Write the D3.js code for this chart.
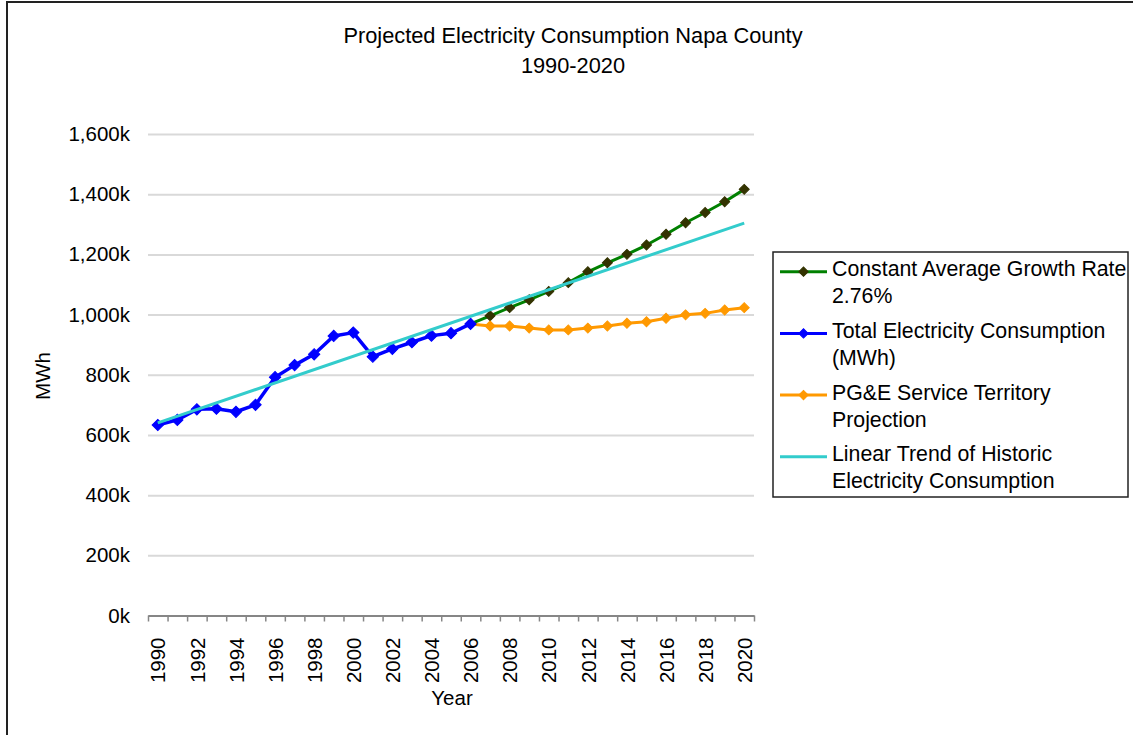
<!DOCTYPE html>
<html>
<head>
<meta charset="utf-8">
<script src="https://cdn.jsdelivr.net/npm/d3@7"></script>
<style>
  html, body { margin: 0; padding: 0; background: #fff; }
  svg { display: block; font-family: "Liberation Sans", Arial, sans-serif; }
</style>
</head>
<body>
<svg id="chart" width="1133" height="735"></svg>
<script>
// ---- data (values in thousands of MWh) ----
const historicYears = [1990,1991,1992,1993,1994,1995,1996,1997,1998,1999,2000,2001,2002,2003,2004,2005,2006];
const historicValues = [633,650,685,687,677,700,792,832,868,929,940,860,886,908,930,938,969];

const projectionYears = [2006,2007,2008,2009,2010,2011,2012,2013,2014,2015,2016,2017,2018,2019,2020];
const growthValues = [969,996,1023,1049,1077,1106,1142,1172,1200,1231,1267,1305,1339,1375,1416];
const pgeValues = [969,962,962,955,949,949,955,962,971,976,988,999,1004,1015,1023];

const trendYears = [1990, 2020];
const trendValues = [640, 1304];

const yTicks = [0,200,400,600,800,1000,1200,1400,1600];
const xLabelYears = [1990,1992,1994,1996,1998,2000,2002,2004,2006,2008,2010,2012,2014,2016,2018,2020];

const titleLines = ["Projected Electricity Consumption Napa County", "1990-2020"];
const legendItems = [
  {lines: ["Constant Average Growth Rate", "2.76%"], color: "#008000", marker: "#333300"},
  {lines: ["Total Electricity Consumption", "(MWh)"], color: "#0000FF", marker: "#0000FF"},
  {lines: ["PG&E Service Territory", "Projection"], color: "#FF9900", marker: "#FF9900"},
  {lines: ["Linear Trend of Historic", "Electricity Consumption"], color: "#33CCCC", marker: null}
];

// ---- layout ----
const svg = d3.select("#chart");
const plot = {left: 148, right: 754, top: 134, bottom: 615.5};

const x = d3.scaleLinear().domain([1989.5, 2020.5]).range([plot.left, plot.right]);
const y = d3.scaleLinear().domain([0, 1600]).range([plot.bottom, plot.top]);

// outer frame
svg.append("rect").attr("x", 7).attr("y", 2).attr("width", 1150).attr("height", 800)
  .attr("fill", "none").attr("stroke", "#222").attr("stroke-width", 2);

// title
svg.append("g").selectAll("text").data(titleLines).join("text")
  .attr("x", 573).attr("y", (d, i) => 43 + i * 30)
  .attr("text-anchor", "middle").attr("font-size", 21.8).attr("fill", "#000")
  .text(d => d);

// y gridlines + labels
const yAxis = d3.axisLeft(y).tickValues(yTicks)
  .tickSize(-(plot.right - plot.left)).tickPadding(18)
  .tickFormat(d => d3.format(",")(d) + "k");
const gy = svg.append("g").attr("transform", `translate(${plot.left},0)`).call(yAxis);
gy.select(".domain").remove();
gy.selectAll(".tick line").attr("stroke", "#d9d9d9").attr("stroke-width", 2);
gy.selectAll(".tick text").attr("font-size", 20.5).attr("fill", "#000")
  .attr("font-family", "Liberation Sans, Arial, sans-serif");

// x axis: ticks at category boundaries
const boundaries = d3.range(1989.5, 2021, 1);
const xAxis = d3.axisBottom(x).tickValues(boundaries).tickSize(6).tickSizeOuter(0).tickFormat("");
const gx = svg.append("g").attr("transform", `translate(0,${plot.bottom})`).call(xAxis);
gx.select(".domain").attr("stroke", "#868686").attr("stroke-width", 2);
gx.selectAll(".tick line").attr("stroke", "#868686").attr("stroke-width", 1.5);

// x labels, rotated
const xLab = d3.axisBottom(x).tickValues(xLabelYears).tickSize(0).tickFormat(d3.format("d"));
const gxl = svg.append("g").attr("transform", `translate(0,${plot.bottom})`).call(xLab);
gxl.select(".domain").remove();
gxl.selectAll(".tick text")
  .attr("font-size", 20.5).attr("fill", "#000")
  .attr("font-family", "Liberation Sans, Arial, sans-serif")
  .attr("transform", "rotate(-90)")
  .attr("text-anchor", "end")
  .attr("x", -22).attr("y", 0).attr("dy", "0.35em");

// axis titles
svg.append("text").attr("x", 452).attr("y", 705).attr("text-anchor", "middle")
  .attr("font-size", 20.5).text("Year");
svg.append("text").attr("transform", "translate(50,376) rotate(-90)")
  .attr("text-anchor", "middle").attr("font-size", 20.5).text("MWh");

// series
const line = d3.line().x(d => x(d[0])).y(d => y(d[1]));
const diamond = (size) => d3.symbol().type(d3.symbolSquare).size(size);

function drawSeries(years, values, color, markerColor, width, msize) {
  const pts = years.map((yr, i) => [yr, values[i]]);
  const g = svg.append("g");
  g.append("path").datum(pts).attr("d", line)
    .attr("fill", "none").attr("stroke", color).attr("stroke-width", width)
    .attr("stroke-linejoin", "round");
  if (markerColor) {
    g.selectAll("path.m").data(pts).join("path").attr("class", "m")
      .attr("d", diamond(msize))
      .attr("transform", d => `translate(${x(d[0])},${y(d[1])}) rotate(45)`)
      .attr("fill", markerColor).attr("stroke", markerColor).attr("stroke-width", 1);
  }
}

drawSeries(projectionYears, growthValues, "#008000", "#333300", 3, 50);
drawSeries(projectionYears, pgeValues, "#FF9900", "#FF9900", 3, 50);
drawSeries(historicYears, historicValues, "#0000FF", "#0000FF", 3.5, 64);
drawSeries(trendYears, trendValues, "#33CCCC", null, 3, 0);

// legend
const lg = svg.append("g");
lg.append("rect").attr("x", 773).attr("y", 252).attr("width", 355).attr("height", 245)
  .attr("fill", "#fff").attr("stroke", "#222").attr("stroke-width", 1.5);
legendItems.forEach((it, i) => {
  const cy = 271.7 + i * 61.7;
  lg.append("line").attr("x1", 780).attr("x2", 827).attr("y1", cy).attr("y2", cy)
    .attr("stroke", it.color).attr("stroke-width", 3);
  if (it.marker) {
    lg.append("path").attr("d", diamond(44))
      .attr("transform", `translate(803.5,${cy}) rotate(45)`)
      .attr("fill", it.marker).attr("stroke", it.marker);
  }
  it.lines.forEach((t, j) => {
    lg.append("text").attr("x", 832).attr("y", cy + 4.5 + j * 27)
      .attr("font-size", 21.3).attr("fill", "#000").text(t);
  });
});
</script>
</body>
</html>
